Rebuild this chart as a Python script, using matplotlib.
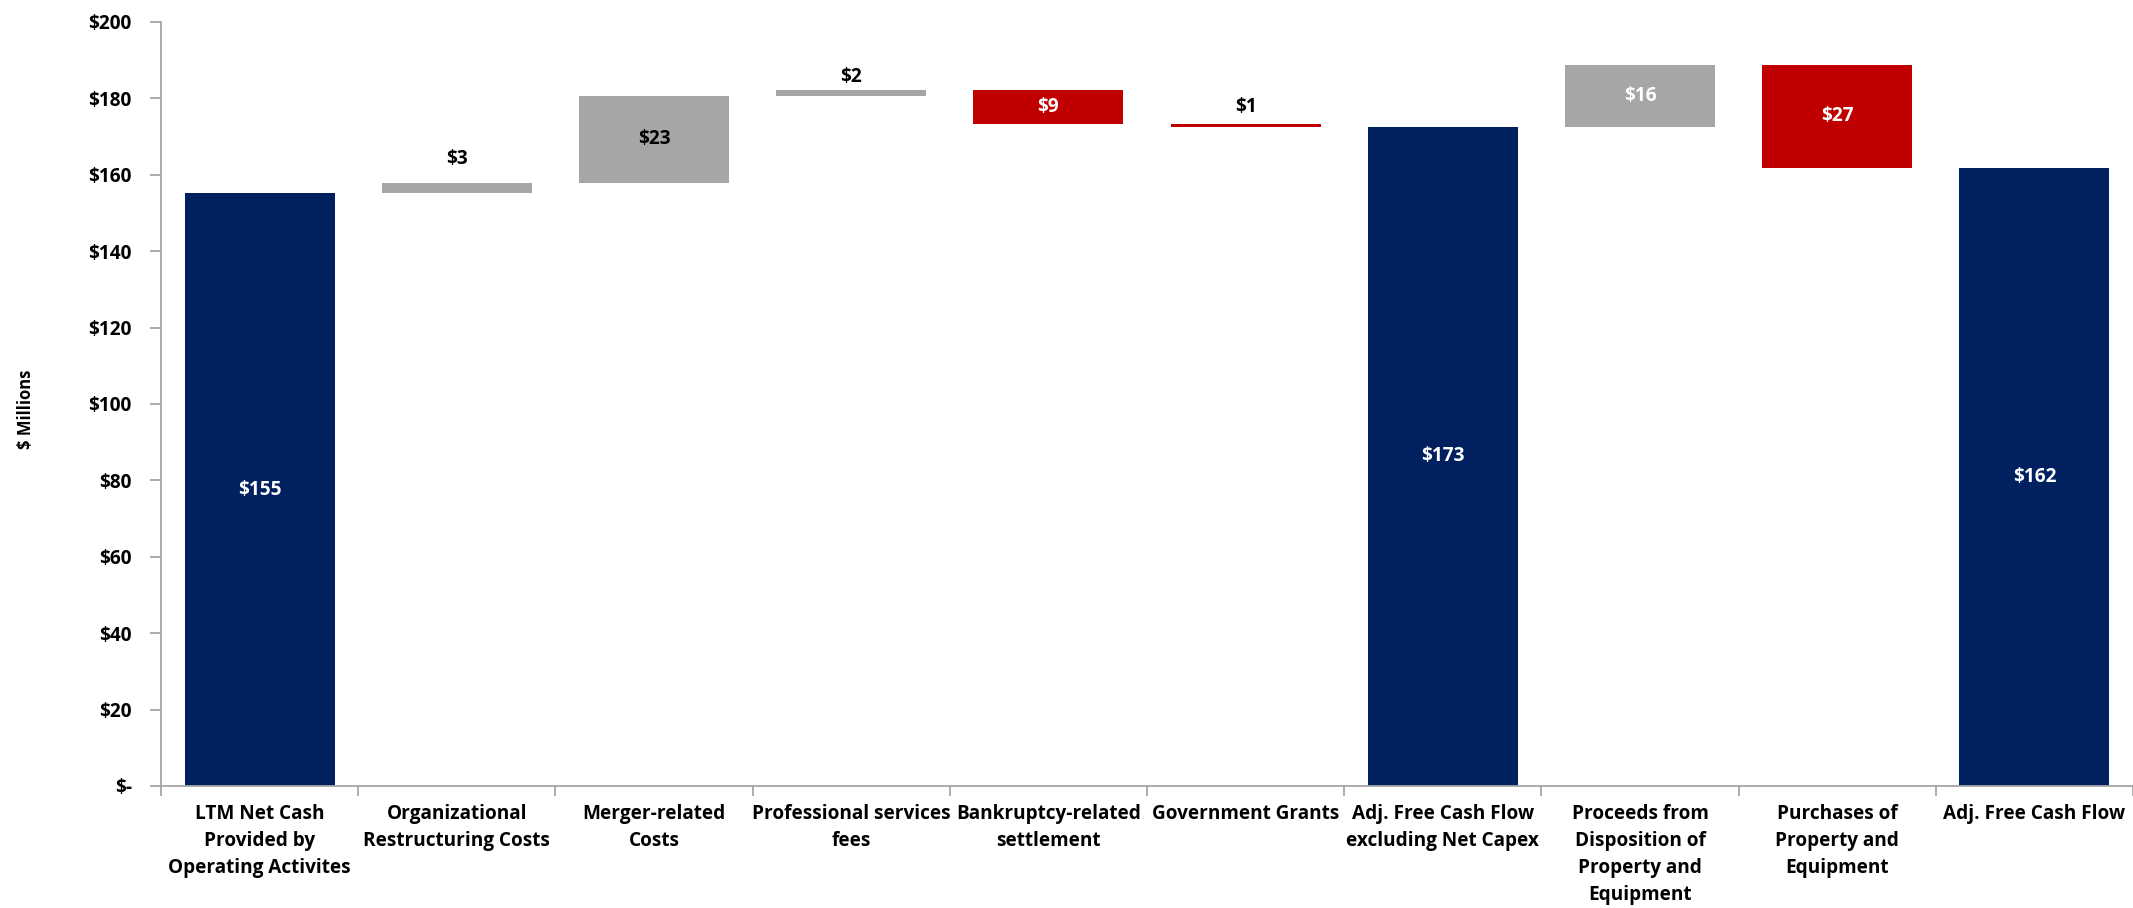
import matplotlib
matplotlib.use("Agg")
import matplotlib.pyplot as plt
from matplotlib.ticker import FixedLocator, FuncFormatter

# ---------------- data ----------------
categories = [
    "LTM Net Cash\nProvided by\nOperating Activites",
    "Organizational\nRestructuring Costs",
    "Merger-related\nCosts",
    "Professional services\nfees",
    "Bankruptcy-related\nsettlement",
    "Government Grants",
    "Adj. Free Cash Flow\nexcluding Net Capex",
    "Proceeds from\nDisposition of\nProperty and\nEquipment",
    "Purchases of\nProperty and\nEquipment",
    "Adj. Free Cash Flow",
]
# kind: 'total' bars start at zero, 'delta' bars float on the running total
kinds = ["total", "delta", "delta", "delta", "delta", "delta", "total", "delta", "delta", "total"]
start_value = 155.2
deltas = [None, 2.6, 22.9, 1.6, -9.0, -0.7, None, 16.1, -26.8, None]
yticks = [0, 20, 40, 60, 80, 100, 120, 140, 160, 180, 200]

# ---------------- styles ----------------
NAVY = "#002060"
GRAY = "#A6A6A6"
RED = "#C00000"
label_colors = ["white", "black", "black", "black", "white", "black", "white", "white", "white", "white"]
label_mode = ["in", "above", "in", "above", "in", "above", "in", "in", "in", "in"]
above_offset_px = {1: 24, 3: 13, 5: 17}
FS = 13.7

FONT = ["Open Sans", "DejaVu Sans"]
plt.rcParams["font.family"] = FONT
plt.rcParams["font.weight"] = "bold"

fig = plt.figure(figsize=(21.33, 9.08), dpi=100)
ax = fig.add_axes([161 / 2133, 1 - 786 / 908, (2133 - 161) / 2133, (786 - 22) / 908])

# compute waterfall geometry from data
bottoms, heights, colors, shown = [], [], [], []
running = start_value
for i, k in enumerate(kinds):
    if k == "total":
        if i == 0:
            running = start_value
        bottoms.append(0)
        heights.append(running)
        colors.append(NAVY)
        shown.append(running)
    else:
        d = deltas[i]
        lo = min(running, running + d)
        bottoms.append(lo)
        heights.append(abs(d))
        colors.append(GRAY if d > 0 else RED)
        shown.append(abs(d))
        running = running + d

x = list(range(len(categories)))
ax.bar(x, heights, bottom=bottoms, width=0.76, color=colors, linewidth=0, zorder=2)

# data labels
for i in x:
    txt = "${:.0f}".format(shown[i])
    if label_mode[i] == "in":
        ax.text(i, bottoms[i] + heights[i] / 2, txt, ha="center", va="center",
                color=label_colors[i], fontsize=FS, fontweight="bold", zorder=3)
    else:
        off = above_offset_px[i] * 72 / 100.0
        ax.annotate(txt, (i, bottoms[i] + heights[i]), xytext=(0, off),
                    textcoords="offset points", ha="center", va="center",
                    color=label_colors[i], fontsize=FS, fontweight="bold", zorder=3)

# axes styling
ax.set_xlim(-0.5, len(categories) - 0.5)
ax.set_ylim(0, 200)
ax.set_yticks(yticks)
ax.yaxis.set_major_formatter(FuncFormatter(lambda v, p: "$-" if v == 0 else "${:.0f}".format(v)))
ax.tick_params(axis="y", direction="out", length=8, width=1.3, color="#A6A6A6",
               pad=13, labelsize=FS, labelcolor="black")

ax.set_xticks(x)
ax.set_xticklabels(categories, fontsize=FS, fontweight="bold", linespacing=1.46)
ax.tick_params(axis="x", which="major", length=0, pad=13, labelcolor="black")
ax.xaxis.set_minor_locator(FixedLocator([i - 0.5 for i in range(len(categories) + 1)]))
ax.tick_params(axis="x", which="minor", direction="out", length=7, width=1.3, color="#A6A6A6")

for s in ["top", "right"]:
    ax.spines[s].set_visible(False)
for s in ["left", "bottom"]:
    ax.spines[s].set_color("#A6A6A6")
    ax.spines[s].set_linewidth(1.3)

fig.text(0.012, 1 - 409 / 908, "$ Millions", rotation=90, ha="center", va="center",
         fontsize=12, fontweight="bold", color="black")

fig.savefig("out.png", dpi=100)
